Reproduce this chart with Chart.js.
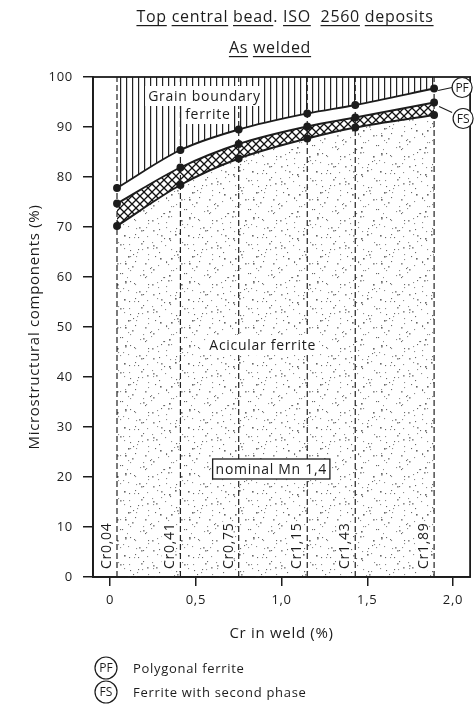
<!DOCTYPE html>
<html lang="en">
<head>
<meta charset="UTF-8">
<title>Top central bead. ISO 2560 deposits - As welded</title>
<style>
  body { margin: 0; background: #fff; }
  #wrap { width: 476px; height: 711px; }
</style>
</head>
<body>
<div id="wrap"><canvas id="chart" width="476" height="711"></canvas></div>

<script src="https://cdn.jsdelivr.net/npm/chart.js@4"></script>
<script>
// Cr content of the six deposits (%)
const crValues = [0.04, 0.41, 0.75, 1.15, 1.43, 1.89];
const crLabels = ['Cr0,04', 'Cr0,41', 'Cr0,75', 'Cr1,15', 'Cr1,43', 'Cr1,89'];

// cumulative boundaries between the microstructural components (%)
const gbfBoundary = [77.8, 85.4, 89.5, 92.7, 94.4, 97.7]; // grain boundary ferrite above, PF below
const pfBoundary  = [74.7, 81.9, 86.6, 90.1, 91.9, 94.9]; // PF above, FS below
const fsBoundary  = [70.2, 78.4, 83.7, 87.7, 89.9, 92.4]; // FS above, acicular ferrite below

const xTicks = [0, 0.5, 1.0, 1.5, 2.0];
const xTickLabels = ['0', '0,5', '1,0', '1,5', '2,0'];

const ink = '#1c1c1c';
const fontFamily = '"Open Sans", "DejaVu Sans", sans-serif';

function makePattern(w, h, draw) {
    const c = document.createElement('canvas');
    c.width = w;
    c.height = h;
    const g = c.getContext('2d');
    draw(g);
    return g.createPattern(c, 'repeat');
}

// vertical hatching - grain boundary ferrite
const vHatch = makePattern(6, 6, g => {
    g.fillStyle = '#222';
    g.fillRect(0, 0, 1.2, 6);
});

// cross hatching - ferrite with second phase
const xHatch = makePattern(8, 8, g => {
    g.strokeStyle = '#111';
    g.lineWidth = 1.3;
    g.beginPath();
    g.moveTo(0, 0); g.lineTo(8, 8);
    g.moveTo(8, 0); g.lineTo(0, 8);
    g.stroke();
});

// stipple - acicular ferrite (scattered texture, 64px tile)
const stipple = makePattern(64, 64, g => {
    for (let i = 0; i < 110; i++) {
        const x = (i * 37 + (i * i) % 11) % 64;
        const y = (i * 23 + (i * i * 7) % 17) % 64;
        g.fillStyle = i % 3 ? '#8c8c8c' : '#666';
        const s = i % 4 === 0 ? 1.6 : 1.1;
        g.fillRect(x, y, s, s);
    }
});

function curve(values, extra) {
    return Object.assign({
        data: crValues.map((x, i) => ({ x: x, y: values[i] })),
        borderColor: ink,
        borderWidth: 1.9,
        pointRadius: 3,
        pointBackgroundColor: ink,
        pointBorderColor: ink,
        cubicInterpolationMode: 'monotone',
        tension: 0.4
    }, extra);
}

const datasets = [
    curve(gbfBoundary, { label: 'Grain boundary ferrite', fill: 'end', backgroundColor: vHatch }),
    curve(pfBoundary, { label: 'Polygonal ferrite', fill: '+1', backgroundColor: xHatch }),
    curve(fsBoundary, { label: 'Ferrite with second phase', fill: 'origin', backgroundColor: stipple })
];
crValues.forEach(x => {
    datasets.push({
        label: 'Cr ' + x,
        data: [{ x: x, y: 0 }, { x: x, y: 100 }],
        borderColor: '#222',
        borderWidth: 1.2,
        borderDash: [6, 3],
        pointRadius: 0,
        fill: false
    });
});

function underlined(ctx, parts, cx, y) {
    const widths = parts.map(p => ctx.measureText(p[0]).width);
    const total = widths.reduce((a, b) => a + b, 0);
    let x = cx - total / 2;
    parts.forEach((p, i) => {
        ctx.fillText(p[0], x, y);
        if (p[1]) ctx.fillRect(x, y + 3, widths[i], 1.2);
        x += widths[i];
    });
}

function circled(ctx, text, x, y, r) {
    ctx.beginPath();
    ctx.arc(x, y, r, 0, Math.PI * 2);
    ctx.fillStyle = '#fff';
    ctx.fill();
    ctx.lineWidth = 1.2;
    ctx.strokeStyle = ink;
    ctx.stroke();
    ctx.fillStyle = ink;
    ctx.textAlign = 'center';
    ctx.textBaseline = 'middle';
    ctx.fillText(text, x, y + 1);
}

const decorations = {
    id: 'decorations',
    beforeUpdate(chart) { chart.ctx.letterSpacing = '0.7px'; },
    beforeDraw(chart) { chart.ctx.letterSpacing = '0.7px'; },
    afterDraw(chart) {
        const ctx = chart.ctx;
        const a = chart.chartArea;
        const xs = chart.scales.x, ys = chart.scales.y;
        ctx.save();
        ctx.letterSpacing = '0.7px';

        // frame
        ctx.strokeStyle = ink;
        ctx.lineWidth = 1.8;
        ctx.strokeRect(a.left, a.top, a.right - a.left, a.bottom - a.top);

        // titles
        ctx.fillStyle = ink;
        ctx.textAlign = 'left';
        ctx.textBaseline = 'alphabetic';
        ctx.font = '16px ' + fontFamily;
        underlined(ctx, [['Top', 1], [' ', 0], ['central', 1], [' ', 0], ['bead', 1], ['. ', 0],
                         ['ISO', 1], ['  ', 0], ['2560', 1], [' ', 0], ['deposits', 1]], 285, 22);
        underlined(ctx, [['As', 1], [' ', 0], ['welded', 1]], 270, 53);

        // Cr labels, rotated, left of each dashed line
        ctx.font = '14px ' + fontFamily;
        crValues.forEach((v, i) => {
            const px = xs.getPixelForValue(v);
            ctx.save();
            ctx.translate(px - 4, a.bottom - 8);
            ctx.rotate(-Math.PI / 2);
            const w = ctx.measureText(crLabels[i]).width;
            ctx.fillStyle = '#fff';
            ctx.fillRect(-1, -15, w + 2, 14);
            ctx.fillStyle = ink;
            ctx.textAlign = 'left';
            ctx.textBaseline = 'bottom';
            ctx.fillText(crLabels[i], 0, 1);
            ctx.restore();
        });

        // region labels
        function boxedText(text, xv, yv, border) {
            const cx = xs.getPixelForValue(xv), cy = ys.getPixelForValue(yv);
            const w = ctx.measureText(text).width + 6;
            ctx.fillStyle = '#fff';
            ctx.fillRect(cx - w / 2, cy - 10, w, 20);
            if (border) {
                ctx.lineWidth = 1.3;
                ctx.strokeStyle = ink;
                ctx.strokeRect(cx - w / 2, cy - 10, w, 20);
            }
            ctx.fillStyle = ink;
            ctx.textAlign = 'center';
            ctx.textBaseline = 'middle';
            ctx.fillText(text, cx, cy + 1);
        }
        ctx.font = '14px ' + fontFamily;
        boxedText('Grain boundary', 0.55, 96.2, false);
        boxedText('ferrite', 0.57, 92.6, false);
        boxedText('Acicular ferrite', 0.89, 46.4, false);
        boxedText('nominal Mn 1,4', 0.94, 21.6, true);

        // PF / FS callouts at the right end
        const last = crValues.length - 1;
        const xe = xs.getPixelForValue(crValues[last]);
        const yPF = ys.getPixelForValue(gbfBoundary[last]);
        const yFS = ys.getPixelForValue(pfBoundary[last]);
        ctx.strokeStyle = ink;
        ctx.lineWidth = 1.2;
        ctx.beginPath();
        ctx.moveTo(xe + 4, yPF + 2); ctx.lineTo(xe + 18, yPF - 1);
        ctx.moveTo(xe + 5, yFS + 4); ctx.lineTo(xe + 18, yFS + 10);
        ctx.stroke();
        ctx.font = '12px ' + fontFamily;
        ctx.letterSpacing = '0px';
        circled(ctx, 'PF', xe + 28, yPF - 1, 10);
        circled(ctx, 'FS', xe + 29, yFS + 16, 10);

        // key at the bottom
        circled(ctx, 'PF', 106, 668, 11);
        circled(ctx, 'FS', 106, 692, 11);
        ctx.letterSpacing = '0.7px';
        ctx.font = '13px ' + fontFamily;
        ctx.textAlign = 'left';
        ctx.textBaseline = 'middle';
        ctx.fillText('Polygonal ferrite', 133, 669);
        ctx.fillText('Ferrite with second phase', 133, 693);
        ctx.restore();
    }
};

const ctx = document.getElementById('chart').getContext('2d');
const chart = new Chart(ctx, {
    type: 'line',
    data: { datasets: datasets },
    options: {
        responsive: false,
        animation: false,
        layout: { padding: { top: 77, right: 5, bottom: 64, left: 22 } },
        plugins: {
            legend: { display: false },
            tooltip: { enabled: false },
            filler: { drawTime: 'beforeDatasetsDraw' }
        },
        scales: {
            x: {
                type: 'linear',
                min: -0.1,
                max: 2.1,
                afterBuildTicks: s => { s.ticks = xTicks.map(v => ({ value: v })); },
                afterFit: s => { s.height = 70; },
                ticks: {
                    color: ink,
                    font: { family: fontFamily, size: 13 },
                    padding: 6,
                    maxRotation: 0,
                    callback: v => xTickLabels[xTicks.indexOf(v)]
                },
                grid: { drawOnChartArea: false, drawTicks: true, tickLength: 9, color: ink, lineWidth: 1.5 },
                border: { display: true, color: ink, width: 1.8 },
                title: {
                    display: true,
                    text: 'Cr in weld (%)',
                    color: ink,
                    font: { family: fontFamily, size: 15 },
                    padding: { top: 4, bottom: 4 }
                }
            },
            y: {
                min: 0,
                max: 100,
                afterFit: s => { s.width = 71; },
                ticks: {
                    stepSize: 10,
                    color: ink,
                    font: { family: fontFamily, size: 13 },
                    padding: 10
                },
                grid: { drawOnChartArea: false, drawTicks: true, tickLength: 10, color: ink, lineWidth: 1.5 },
                border: { display: true, color: ink, width: 1.8 },
                title: {
                    display: true,
                    text: 'Microstructural components (%)',
                    color: ink,
                    font: { family: fontFamily, size: 15 },
                    padding: { top: 4, bottom: 4 }
                }
            }
        }
    },
    plugins: [decorations]
});
</script>
</body>
</html>
